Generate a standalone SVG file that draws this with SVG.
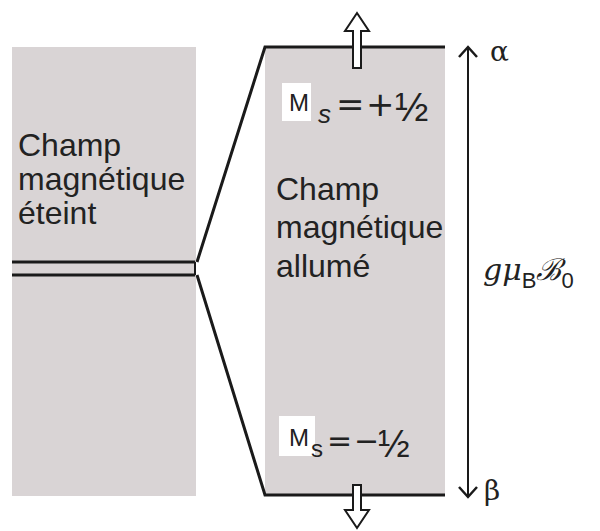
<svg xmlns="http://www.w3.org/2000/svg" width="600" height="531" viewBox="0 0 600 531">
<defs>
<style>
.panel{fill:#d9d4d5}
.lvl{stroke:#1a1a1a;stroke-width:3;fill:none}
.thin{stroke:#1a1a1a;stroke-width:2;fill:none}
.lbl{font-family:"Liberation Sans",Arial,sans-serif;font-size:32px;fill:#222}
.sans{font-family:"Liberation Sans",Arial,sans-serif;fill:#222}
.op{font-family:"DejaVu Sans",sans-serif;fill:#222}
.hollow{fill:#fff;stroke:#1a1a1a;stroke-width:2}
</style>
<marker id="chev" viewBox="0 0 14 20" refX="12" refY="10" markerWidth="14" markerHeight="20" markerUnits="userSpaceOnUse" orient="auto-start-reverse">
<path d="M2,1 L12,10 L2,19" fill="none" stroke="#1a1a1a" stroke-width="2.5"/>
</marker>
</defs>
<rect width="600" height="531" fill="#fff"/>
<g id="panel-off">
<rect class="panel" x="12" y="47" width="184" height="449"/>
<text class="lbl" x="18" y="156">Champ</text>
<text class="lbl" x="18" y="190">magnétique</text>
<text class="lbl" x="18" y="224">éteint</text>
</g>
<g id="panel-on">
<rect class="panel" x="265" y="47" width="180" height="449"/>
<text class="lbl" x="276" y="200" font-size="33">Champ</text>
<text class="lbl" x="276" y="238" font-size="33">magnétique</text>
<text class="lbl" x="276" y="277" font-size="33">allumé</text>
</g>
<g id="connectors">
<line class="lvl" x1="12" y1="262" x2="195" y2="262"/>
<line class="lvl" x1="12" y1="275" x2="195" y2="275"/>
<line class="thin" x1="195" y1="262" x2="195" y2="275"/>
<polyline class="lvl" points="197,262 265,47 445,47"/>
<polyline class="lvl" points="197,275 265,495 445,495"/>
<line class="thin" x1="468" y1="47" x2="468" y2="497" marker-start="url(#chev)" marker-end="url(#chev)"/>
</g>
<g id="alpha">
<path class="hollow" d="M357,13 L369,31 L361,31 L361,68 L353,68 L353,31 L345,31 Z"/>
<rect x="282" y="83" width="29" height="38" fill="#fff"/>
<text class="sans" x="289" y="111" font-size="24">M</text>
<text class="sans" x="318" y="123" font-size="26" font-style="italic">s</text>
<text class="op" x="336" y="116" font-size="34">=</text>
<text class="op" x="366" y="116" font-size="34">+</text>
<text class="sans" x="395" y="121" font-size="40">½</text>
<text x="490" y="61" font-family="'DejaVu Serif',serif" font-size="28" fill="#222">α</text>
</g>
<g id="beta">
<path class="hollow" d="M357,528 L369,510 L361,510 L361,485 L353,485 L353,510 L345,510 Z"/>
<rect x="279" y="416" width="36" height="40" fill="#fff"/>
<text class="sans" x="289" y="446" font-size="24">M</text>
<text class="sans" x="311" y="457" font-size="24">s</text>
<text class="op" x="327" y="451" font-size="30">=</text>
<text class="op" x="354" y="451" font-size="30">−</text>
<text class="sans" x="378" y="457" font-size="38">½</text>
<text x="484" y="500" font-family="'DejaVu Serif',serif" font-size="28" fill="#222">β</text>
</g>
<g id="energy">
<text x="483" y="280" font-family="'DejaVu Serif',serif" font-size="30" fill="#222"><tspan font-style="italic">gμ</tspan><tspan font-family="'Liberation Sans',sans-serif" font-size="22" dy="8">B</tspan><tspan font-style="italic" dy="-8">ℬ</tspan><tspan font-family="'Liberation Sans',sans-serif" font-size="22" dy="8">0</tspan></text>
</g>
</svg>
